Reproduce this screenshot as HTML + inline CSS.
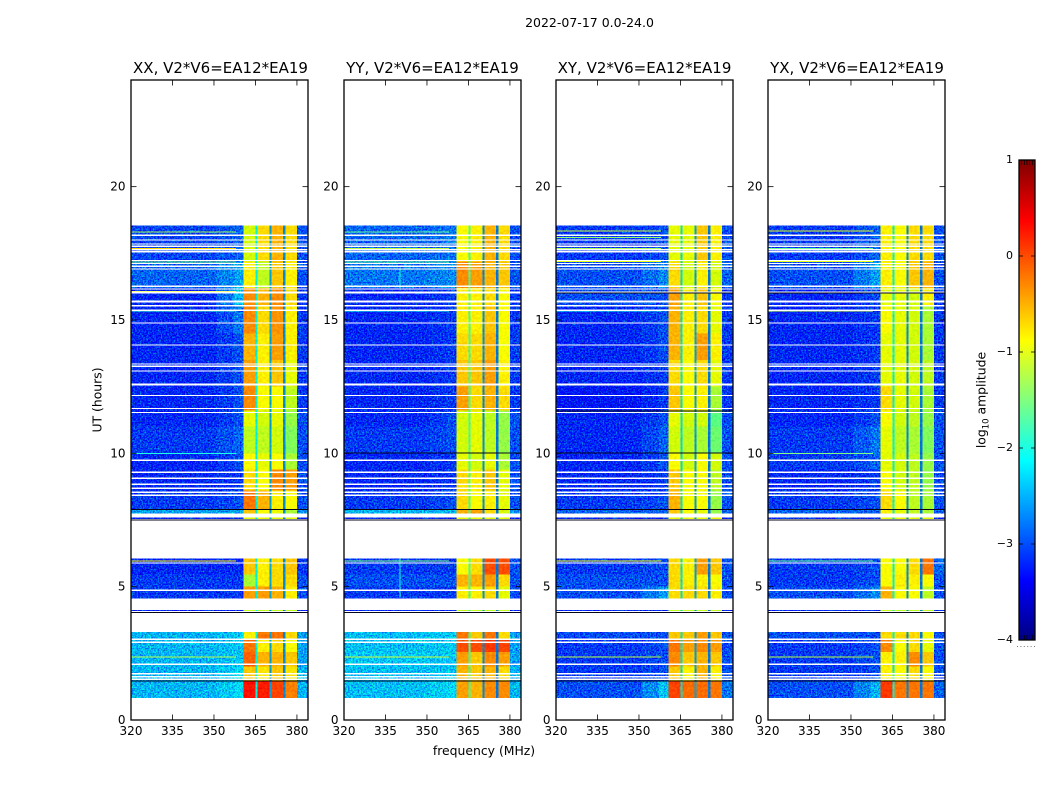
<!DOCTYPE html>
<html lang="en">
<head>
<meta charset="utf-8">
<title>2022-07-17 amplitude spectrogram</title>
<style>
html,body{margin:0;padding:0;background:#fff;}
svg{display:block;}
text{font-family:"DejaVu Sans","Liberation Sans",sans-serif;fill:#000;}
.tick{font-size:12px;}
.ptitle{font-size:15px;text-anchor:middle;}
.alabel{font-size:12.4px;}
</style>
</head>
<body>
<svg id="fig" width="1050" height="800" viewBox="0 0 1050 800" xmlns="http://www.w3.org/2000/svg">
  <defs>
    <filter id="speckleA" filterUnits="userSpaceOnUse" x="0" y="0" width="1050" height="800" color-interpolation-filters="sRGB">
      <feTurbulence type="fractalNoise" baseFrequency="0.62" numOctaves="2" seed="4" result="t"/>
      <feColorMatrix in="t" type="matrix" values="0 0 0 0 0  1 0 0 0 0  0 1.1 0 0 0  0 0 0 0 1" result="n"/>
      <feComposite in="SourceGraphic" in2="n" operator="arithmetic" k1="0" k2="1" k3="1.4" k4="-0.7" result="m"/>
      <feComposite in="m" in2="SourceAlpha" operator="in"/>
    </filter>
    <filter id="speckleB" filterUnits="userSpaceOnUse" x="0" y="0" width="1050" height="800" color-interpolation-filters="sRGB">
      <feTurbulence type="fractalNoise" baseFrequency="0.4" numOctaves="2" seed="9" result="t"/>
      <feColorMatrix in="t" type="matrix" values="1 0 0 0 0  0 1 0 0 0  0 0 0 0 0  0 0 0 0 1" result="n"/>
      <feComposite in="SourceGraphic" in2="n" operator="arithmetic" k1="0" k2="1" k3="0.3" k4="-0.15" result="m"/>
      <feComposite in="m" in2="SourceAlpha" operator="in"/>
    </filter>
  </defs>
  <rect x="0" y="0" width="1050" height="800" fill="#fff"/>
  <text x="589.5" y="27" font-size="12.5" text-anchor="middle">2022-07-17 0.0-24.0</text>
  <g id="panels"></g>
  <text class="ptitle" x="220.5" y="73">XX, V2*V6=EA12*EA19</text>
  <text class="ptitle" x="432.5" y="73">YY, V2*V6=EA12*EA19</text>
  <text class="ptitle" x="644.5" y="73">XY, V2*V6=EA12*EA19</text>
  <text class="ptitle" x="857" y="73">YX, V2*V6=EA12*EA19</text>
  <text class="alabel" transform="translate(101.5,400) rotate(-90)" text-anchor="middle">UT (hours)</text>
  <text class="alabel" x="484" y="755" text-anchor="middle">frequency (MHz)</text>
  <text class="alabel" transform="translate(985.5,400) rotate(-90)" text-anchor="middle">log<tspan font-size="8.5" dy="3">10</tspan><tspan dy="-3"> amplitude</tspan></text>
  <g id="cbar"></g>
</svg>
<script>
// ---- chart data ----
const panelIds = ['xx', 'yy', 'xy', 'yx'];
const freqTicks = [320, 335, 350, 365, 380];
const utTicks = [0, 5, 10, 15, 20];
const cbarTickValues = [1, 0, -1, -2, -3, -4];
const cbarTickLabels = ['1', '0', '\u22121', '\u22122', '\u22123', '\u22124'];

// frequency column edges (MHz): low, shoulder, edge, band1, stripe1, band2, stripe2, band3, stripe3, band4, high
const freqEdges = [320, 351, 357, 360.6, 365, 365.8, 370, 370.8, 375, 375.8, 380, 384];

// UT bins (hours)
const utBinStart = [0.83, 1.45, 2.0, 2.55, 3.0, 4.08, 4.55, 5.0, 5.45, 7.53, 7.75, 7.9, 8.6, 9.4, 10.0, 11.0, 11.6, 12.5, 13.5, 14.5, 15.5, 16.2, 17.2];
const utBinEnd   = [1.45, 2.0, 2.55, 3.0, 3.3, 4.13, 5.0, 5.45, 6.05, 7.6, 7.9, 8.6, 9.4, 10.0, 11.0, 11.6, 12.5, 13.5, 14.5, 15.5, 16.2, 17.2, 18.55];

// log10 amplitude per UT bin: [low, edge, band1, band2, band3, band4, high]
const valuesXX = [
  [-2.5,-2.3,0.3,0.25,0.05,-0.25,-2.5],
  [-2.5,-2.3,-0.6,-0.75,-0.6,-0.75,-2.5],
  [-2.5,-2.4,-0.1,-0.5,-0.5,-0.6,-2.6],
  [-2.5,-2.4,-0.2,-0.8,-0.7,-0.9,-2.6],
  [-2.5,-2.4,-0.8,-0.2,-0.2,-0.7,-2.6],
  [-3.2,-3.2,-1.2,-1.2,-1.2,-1.2,-3.2],
  [-3.1,-3.1,-0.4,-0.4,-0.5,-0.8,-3.0],
  [-3.1,-3.1,-1.3,-0.8,-0.7,-0.7,-3.0],
  [-3.2,-3.2,-0.6,-0.8,-0.7,-0.6,-3.1],
  [-3.2,-3.2,-1.0,-1.0,-1.0,-1.0,-3.2],
  [-2.6,-2.6,-0.6,-0.9,-1.0,-1.3,-2.7],
  [-3.1,-3.0,-0.2,-0.5,-0.8,-0.9,-3.0],
  [-3.2,-3.1,-0.7,-0.9,-0.3,-0.4,-3.0],
  [-3.2,-3.0,-0.9,-1.0,-0.9,-1.3,-3.0],
  [-3.1,-2.9,-1.2,-1.2,-1.1,-1.5,-3.0],
  [-3.2,-3.0,-1.0,-1.1,-1.0,-1.4,-3.0],
  [-3.2,-3.0,-0.3,-0.9,-0.9,-1.2,-3.1],
  [-3.2,-3.0,-0.4,-0.8,-0.6,-1.0,-3.1],
  [-3.2,-3.0,-0.5,-0.8,-0.4,-0.8,-3.1],
  [-3.2,-2.8,-0.3,-0.7,-0.35,-0.8,-3.1],
  [-3.2,-2.5,-0.3,-0.5,-0.3,-0.7,-3.1],
  [-2.9,-2.6,-0.8,-1.2,-0.6,-0.8,-3.0],
  [-3.05,-2.9,-1.1,-0.7,-0.5,-0.7,-3.0]
];
const valuesYY = [
  [-2.45,-2.3,-0.4,-0.5,-0.3,-0.3,-2.5],
  [-2.45,-2.4,-0.5,-0.6,-0.5,-0.7,-2.5],
  [-2.4,-2.4,-0.4,-0.6,-0.3,-0.4,-2.6],
  [-2.45,-2.4,0.0,0.0,0.1,0.05,-2.6],
  [-2.45,-2.4,-0.2,-0.6,-0.2,-0.7,-2.6],
  [-3.2,-3.2,-1.2,-1.2,-1.2,-1.2,-3.2],
  [-3.1,-3.1,-0.8,-0.8,-0.7,-1.0,-3.0],
  [-3.0,-3.0,-0.5,-0.5,-0.4,-0.7,-3.0],
  [-3.1,-3.1,-0.9,-0.7,0.0,0.0,-3.0],
  [-3.2,-3.2,-1.0,-1.0,-1.0,-1.0,-3.2],
  [-2.5,-2.5,-0.5,-0.4,-0.7,-1.1,-2.6],
  [-3.1,-3.0,-0.7,-0.9,-0.8,-1.0,-3.0],
  [-3.2,-3.1,-0.7,-0.8,-0.6,-1.0,-3.0],
  [-3.2,-3.1,-1.0,-1.1,-1.0,-1.3,-3.0],
  [-3.1,-3.0,-1.1,-1.0,-1.2,-1.4,-3.0],
  [-3.2,-3.0,-1.1,-1.0,-1.2,-1.4,-3.0],
  [-3.2,-3.1,-0.4,-0.7,-0.5,-0.7,-3.1],
  [-3.2,-3.1,-0.6,-0.6,-0.4,-0.8,-3.1],
  [-3.2,-3.1,-0.7,-0.7,-0.5,-0.9,-3.1],
  [-3.2,-3.1,-0.8,-0.8,-0.6,-0.9,-3.1],
  [-3.2,-3.1,-0.8,-0.8,-0.7,-0.9,-3.1],
  [-2.8,-2.7,-0.3,-0.4,-0.5,-0.6,-3.0],
  [-2.9,-2.8,-0.9,-0.8,-0.5,-0.7,-3.0]
];
const valuesXY = [
  [-3.0,-2.4,0.05,-0.15,-0.15,-0.2,-2.8],
  [-3.1,-3.0,-0.6,-0.8,-0.5,-0.8,-3.0],
  [-3.1,-3.0,-0.3,-0.6,-0.5,-0.6,-3.0],
  [-3.1,-3.0,-0.2,-0.4,-0.3,-0.4,-3.0],
  [-3.0,-3.0,-0.6,-0.6,-0.4,-0.6,-3.0],
  [-3.2,-3.2,-1.2,-1.2,-1.2,-1.2,-3.2],
  [-3.0,-2.6,-0.7,-0.7,-0.7,-0.8,-3.0],
  [-3.0,-3.0,-0.7,-0.8,-0.8,-0.9,-3.0],
  [-3.1,-3.0,-0.7,-0.8,-0.4,-0.6,-3.0],
  [-3.2,-3.2,-1.0,-1.0,-1.0,-1.0,-3.2],
  [-2.9,-2.9,-0.6,-0.9,-1.0,-1.4,-2.9],
  [-3.1,-3.0,-0.5,-0.9,-0.9,-1.4,-3.0],
  [-3.2,-3.1,-0.6,-0.9,-0.9,-1.2,-3.0],
  [-3.2,-3.0,-0.9,-1.1,-0.9,-1.1,-3.0],
  [-3.2,-2.9,-1.1,-1.2,-1.3,-1.6,-3.0],
  [-3.2,-3.0,-1.0,-1.1,-1.1,-1.7,-3.0],
  [-3.3,-3.1,-0.6,-0.9,-0.8,-1.3,-3.1],
  [-3.2,-3.1,-0.7,-0.9,-0.7,-1.0,-3.1],
  [-3.2,-3.0,-0.5,-0.8,-0.4,-0.8,-3.1],
  [-3.2,-3.0,-0.5,-0.8,-0.7,-1.0,-3.1],
  [-3.0,-3.0,-0.4,-0.8,-0.6,-0.9,-3.1],
  [-3.0,-2.7,-0.7,-1.1,-0.8,-1.1,-2.9],
  [-3.1,-3.0,-1.0,-1.0,-0.6,-0.8,-3.0]
];
const valuesYX = [
  [-3.0,-2.5,0.1,-0.2,-0.2,-0.2,-2.9],
  [-3.1,-3.0,-0.8,-0.9,-0.7,-0.9,-3.0],
  [-3.1,-3.0,-0.8,-0.8,-0.3,-0.6,-3.0],
  [-3.1,-3.0,-0.3,-0.9,-0.7,-1.0,-3.0],
  [-3.0,-3.0,-0.7,-0.7,-0.7,-0.9,-3.0],
  [-3.2,-3.2,-1.2,-1.2,-1.2,-1.2,-3.2],
  [-3.0,-2.7,-0.5,-0.9,-0.9,-1.2,-3.0],
  [-3.1,-3.0,-0.9,-0.8,-0.8,-0.9,-3.0],
  [-3.1,-3.0,-0.9,-0.9,-0.7,-0.2,-2.9],
  [-3.2,-3.2,-1.0,-1.0,-1.0,-1.0,-3.2],
  [-2.9,-2.9,-0.8,-1.0,-1.2,-1.3,-2.9],
  [-3.1,-3.0,-0.7,-0.9,-1.2,-1.3,-3.0],
  [-3.2,-3.1,-0.9,-1.1,-1.2,-1.4,-3.0],
  [-3.1,-2.9,-1.0,-1.1,-1.2,-1.4,-3.0],
  [-3.1,-2.8,-1.0,-1.2,-1.3,-1.5,-3.0],
  [-3.2,-3.0,-0.9,-1.1,-1.2,-1.4,-3.0],
  [-3.2,-3.1,-0.7,-1.0,-1.1,-1.3,-3.1],
  [-3.2,-3.1,-1.0,-1.0,-1.1,-1.2,-3.1],
  [-3.2,-3.1,-1.0,-1.0,-1.1,-1.3,-3.1],
  [-3.2,-3.1,-0.9,-1.0,-1.1,-1.3,-3.1],
  [-3.2,-3.0,-1.0,-1.0,-1.1,-0.8,-3.1],
  [-3.0,-2.6,-0.8,-0.9,-0.6,-0.5,-3.0],
  [-3.1,-2.9,-0.8,-0.9,-0.7,-0.7,-3.0]
];
const panelValues = [valuesXX, valuesYY, valuesXY, valuesYX];

// stripe amplitude between the bands, one triple per panel
const stripeValues = [
  [-2.2, -2.6, -2.7],
  [-1.8, -2.7, -2.8],
  [-2.3, -2.6, -2.8],
  [-2.2, -2.7, -2.8]
];

// narrow low-frequency RFI rows: [UT, log10 amplitude]
const rfiXX = [[18.3,-1.3],[17.68,-0.7],[17.17,-1.5],[16.06,-0.9],[15.34,-1.8],[10.0,-2.0],[5.97,-0.8],[2.36,-1.2]];
const rfiYY = [[18.3,-1.6],[17.68,-1.2],[17.17,-1.6],[15.34,-2.0],[5.97,-1.5],[2.36,-1.1]];
const rfiXY = [[18.34,-1.1],[18.1,-1.4],[17.68,-1.3],[17.2,-1.0],[15.34,-2.0],[5.97,-0.9],[2.36,-1.2]];
const rfiYX = [[18.34,-1.0],[17.68,-1.6],[17.2,-1.0],[16.02,-1.7],[15.34,-1.1],[10.0,-1.5],[5.97,-1.6],[2.36,-1.2]];
const panelRfi = [rfiXX, rfiYY, rfiXY, rfiYX];

// single-channel RFI in YY: frequency (MHz), UT start, UT end, log10 amplitude
const channelRfiFreq = [340, 340];
const channelRfiStart = [4.6, 16.2];
const channelRfiEnd = [6.05, 16.9];
const channelRfiValue = [-2.0, -2.0];

// flagged (blank) integrations: UT centre and width in hours
const flaggedUT = [18.18,18.0,17.85,17.76,17.64,17.56,17.23,17.12,17.01,16.91,16.26,16.16,16.03,15.69,15.53,15.36,14.89,14.06,13.35,13.26,13.09,12.58,12.17,11.68,11.53,9.74,9.29,9.06,8.84,8.69,8.54,8.43,5.89,4.86,3.03,2.91,2.09,1.74,1.62,1.53];
const flaggedWidth = [0.06,0.05,0.05,0.05,0.05,0.05,0.05,0.05,0.05,0.05,0.05,0.05,0.06,0.08,0.05,0.05,0.05,0.05,0.05,0.05,0.05,0.08,0.05,0.05,0.05,0.05,0.05,0.05,0.05,0.05,0.05,0.05,0.05,0.05,0.05,0.05,0.05,0.05,0.05,0.05];

// very low amplitude rows drawn dark: UT values per panel
const darkXX = [1.45, 4.02, 7.5, 7.88];
const darkYY = [1.45, 4.02, 7.5, 7.88, 10.0];
const darkXY = [1.45, 4.02, 7.5, 7.88, 10.0, 11.58, 16.0];
const darkYX = [1.45, 4.02, 7.5, 7.88, 16.0];
const panelDark = [darkXX, darkYY, darkXY, darkYX];

// ---- layout ----
const panelLeft = [131, 344, 556, 768];
const panelWidth = 177;
const plotTop = 80;
const plotBottom = 720;
const utMin = 0, utMax = 24, freqMin = 320, freqMax = 384;
const cbarLeft = 1019, cbarRight = 1035, cbarTop = 160, cbarBottom = 640;
const vMin = -4, vMax = 1;

const NS = 'http://www.w3.org/2000/svg';
function make(tag, parent) {
  const el = document.createElementNS(NS, tag);
  parent.appendChild(el);
  return el;
}
function xScale(panel, f) {
  return panelLeft[panel] + (f - freqMin) / (freqMax - freqMin) * panelWidth;
}
function yScale(ut) {
  return plotBottom - (ut - utMin) / (utMax - utMin) * (plotBottom - plotTop);
}
function cbarY(v) {
  return cbarBottom - (v - vMin) / (vMax - vMin) * (cbarBottom - cbarTop);
}
function jet(v) {
  const n = Math.max(0, Math.min(1, (v - vMin) / (vMax - vMin)));
  const ramp = function (a) { return Math.max(0, Math.min(1, a)); };
  const r = ramp(Math.min(4 * n - 1.5, -4 * n + 4.5));
  const g = ramp(Math.min(4 * n - 0.5, -4 * n + 3.5));
  const b = ramp(Math.min(4 * n + 0.5, -4 * n + 2.5));
  return 'rgb(' + Math.round(r * 255) + ',' + Math.round(g * 255) + ',' + Math.round(b * 255) + ')';
}
function columnValue(row, stripes, col) {
  const map = [row[0], (row[0] + row[1]) / 2, row[1], row[2], stripes[0], row[3], stripes[1], row[4], stripes[2], row[5], row[6]];
  return map[col];
}
function addCell(group, panel, f0, f1, u0, u1, v) {
  const x0 = xScale(panel, f0), x1 = xScale(panel, f1);
  const y0 = yScale(u1), y1 = yScale(u0);
  const cell = make('rect', group);
  
  
  cell.setAttribute('x', x0);
  cell.setAttribute('y', y0);
  cell.setAttribute('width', x1 - x0);
  cell.setAttribute('height', y1 - y0);
  cell.setAttribute('fill', jet(v));
  cell.setAttribute('shape-rendering', 'crispEdges');
}

const panelsRoot = document.getElementById('panels');
panelIds.forEach(function (id, p) {
  const g = make('g', panelsRoot);
  
  

  const bg = make('g', g);
  
  
  bg.setAttribute('filter', 'url(#speckleA)');
  const bandGroup = make('g', g);
  
  
  bandGroup.setAttribute('filter', 'url(#speckleB)');

  const rows = panelValues[p];
  rows.forEach(function (row, r) {
    for (let c = 0; c < freqEdges.length - 1; c++) {
      const isBackground = c < 3 || c === freqEdges.length - 2;
      addCell(isBackground ? bg : bandGroup, p, freqEdges[c], freqEdges[c + 1], utBinStart[r], utBinEnd[r], columnValue(row, stripeValues[p], c));
    }
  });

  if (id === 'yy') {
    channelRfiFreq.forEach(function (f, i) {
      const line = make('rect', g);
      
      
      line.setAttribute('x', xScale(p, f));
      line.setAttribute('y', yScale(channelRfiEnd[i]));
      line.setAttribute('width', 1);
      line.setAttribute('height', yScale(channelRfiStart[i]) - yScale(channelRfiEnd[i]));
      line.setAttribute('fill', jet(channelRfiValue[i]));
      line.setAttribute('shape-rendering', 'crispEdges');
    });
  }

  panelRfi[p].forEach(function (item) {
    const rfi = make('rect', g);
    
    
    rfi.setAttribute('x', xScale(p, 320));
    rfi.setAttribute('y', yScale(item[0] + 0.02));
    rfi.setAttribute('width', xScale(p, 358) - xScale(p, 320));
    rfi.setAttribute('height', yScale(item[0] - 0.02) - yScale(item[0] + 0.02));
    rfi.setAttribute('fill', jet(item[1]));
    rfi.setAttribute('shape-rendering', 'crispEdges');
  });

  flaggedUT.forEach(function (ut, i) {
    const flag = make('rect', g);
    
    
    flag.setAttribute('x', xScale(p, freqMin));
    flag.setAttribute('y', yScale(ut + flaggedWidth[i] / 2));
    flag.setAttribute('width', panelWidth);
    flag.setAttribute('height', yScale(ut - flaggedWidth[i] / 2) - yScale(ut + flaggedWidth[i] / 2));
    flag.setAttribute('fill', '#fff');
    flag.setAttribute('shape-rendering', 'crispEdges');
  });

  panelDark[p].forEach(function (ut) {
    const dark = make('rect', g);
    
    
    dark.setAttribute('x', xScale(p, freqMin));
    dark.setAttribute('y', yScale(ut + 0.025));
    dark.setAttribute('width', panelWidth);
    dark.setAttribute('height', 1);
    dark.setAttribute('fill', '#05051a');
    dark.setAttribute('shape-rendering', 'crispEdges');
  });

  const frame = make('rect', g);
  
  
  frame.setAttribute('x', panelLeft[p]);
  frame.setAttribute('y', plotTop);
  frame.setAttribute('width', panelWidth);
  frame.setAttribute('height', plotBottom - plotTop);
  frame.setAttribute('fill', 'none');
  frame.setAttribute('stroke', '#000');
  frame.setAttribute('stroke-width', '1.3');

  freqTicks.forEach(function (f) {
    const x = xScale(p, f);
    [[plotBottom, plotBottom - 5.5], [plotTop, plotTop + 5.5]].forEach(function (ends) {
      const t = make('line', g);
      
      
      t.setAttribute('x1', x);
      t.setAttribute('x2', x);
      t.setAttribute('y1', ends[0]);
      t.setAttribute('y2', ends[1]);
      t.setAttribute('stroke', '#000');
      t.setAttribute('stroke-width', '0.8');
    });
    const label = make('text', g);
    
    
    label.setAttribute('class', 'tick');
    label.setAttribute('x', x);
    label.setAttribute('y', plotBottom + 15);
    label.setAttribute('text-anchor', 'middle');
    label.textContent = String(f);
  });

  utTicks.forEach(function (ut) {
    const y = yScale(ut);
    const right = panelLeft[p] + panelWidth;
    [[panelLeft[p], panelLeft[p] + 5.5], [right, right - 5.5]].forEach(function (ends) {
      const t = make('line', g);
      
      
      t.setAttribute('x1', ends[0]);
      t.setAttribute('x2', ends[1]);
      t.setAttribute('y1', y);
      t.setAttribute('y2', y);
      t.setAttribute('stroke', '#000');
      t.setAttribute('stroke-width', '0.8');
    });
    const label = make('text', g);
    
    
    label.setAttribute('class', 'tick');
    label.setAttribute('x', panelLeft[p] - 5.5);
    label.setAttribute('y', y + 4);
    label.setAttribute('text-anchor', 'end');
    label.textContent = String(ut);
  });
});

// ---- colorbar ----
const cbarRoot = document.getElementById('cbar');
const cbarSteps = 240;
for (let i = 0; i < cbarSteps; i++) {
  const v0 = vMin + (vMax - vMin) * i / cbarSteps;
  const v1 = vMin + (vMax - vMin) * (i + 1) / cbarSteps;
  const swatch = make('rect', cbarRoot);
  
  
  swatch.setAttribute('x', cbarLeft);
  swatch.setAttribute('y', cbarY(v1));
  swatch.setAttribute('width', cbarRight - cbarLeft);
  swatch.setAttribute('height', cbarY(v0) - cbarY(v1) + 0.5);
  swatch.setAttribute('fill', jet((v0 + v1) / 2));
  swatch.setAttribute('shape-rendering', 'crispEdges');
}
const cbarFrame = make('rect', cbarRoot);


cbarFrame.setAttribute('x', cbarLeft);
cbarFrame.setAttribute('y', cbarTop);
cbarFrame.setAttribute('width', cbarRight - cbarLeft);
cbarFrame.setAttribute('height', cbarBottom - cbarTop);
cbarFrame.setAttribute('fill', 'none');
cbarFrame.setAttribute('stroke', '#000');
cbarFrame.setAttribute('stroke-width', '1.3');

cbarTickValues.forEach(function (v, i) {
  const y = cbarY(v);
  [[cbarLeft, cbarLeft + 4], [cbarRight, cbarRight - 4]].forEach(function (ends) {
    const t = make('line', cbarRoot);
    
    
    t.setAttribute('x1', ends[0]);
    t.setAttribute('x2', ends[1]);
    t.setAttribute('y1', y);
    t.setAttribute('y2', y);
    t.setAttribute('stroke', '#000');
    t.setAttribute('stroke-width', '0.8');
  });
  const label = make('text', cbarRoot);
  
  
  label.setAttribute('font-size', '11');
  label.setAttribute('x', cbarLeft - 6);
  label.setAttribute('y', y + 3);
  label.setAttribute('text-anchor', 'end');
  label.textContent = cbarTickLabels[i];
});

[cbarTop, cbarBottom].forEach(function (edge) {
  const dir = edge === cbarTop ? 1 : -1;
  for (let k = 1; k <= 5; k++) {
    const m = make('line', cbarRoot);
    
    
    const x = cbarLeft + k * (cbarRight - cbarLeft) / 6;
    m.setAttribute('x1', x);
    m.setAttribute('x2', x);
    m.setAttribute('y1', edge);
    m.setAttribute('y2', edge + dir * 5);
    m.setAttribute('stroke', '#000');
    m.setAttribute('stroke-width', '0.7');
  }
});

const dots = make('line', cbarRoot);


dots.setAttribute('x1', 1017);
dots.setAttribute('x2', 1035);
dots.setAttribute('y1', 646.5);
dots.setAttribute('y2', 646.5);
dots.setAttribute('stroke', '#777');
dots.setAttribute('stroke-width', '1');
dots.setAttribute('stroke-dasharray', '1 2.4');
</script>
</body>
</html>
